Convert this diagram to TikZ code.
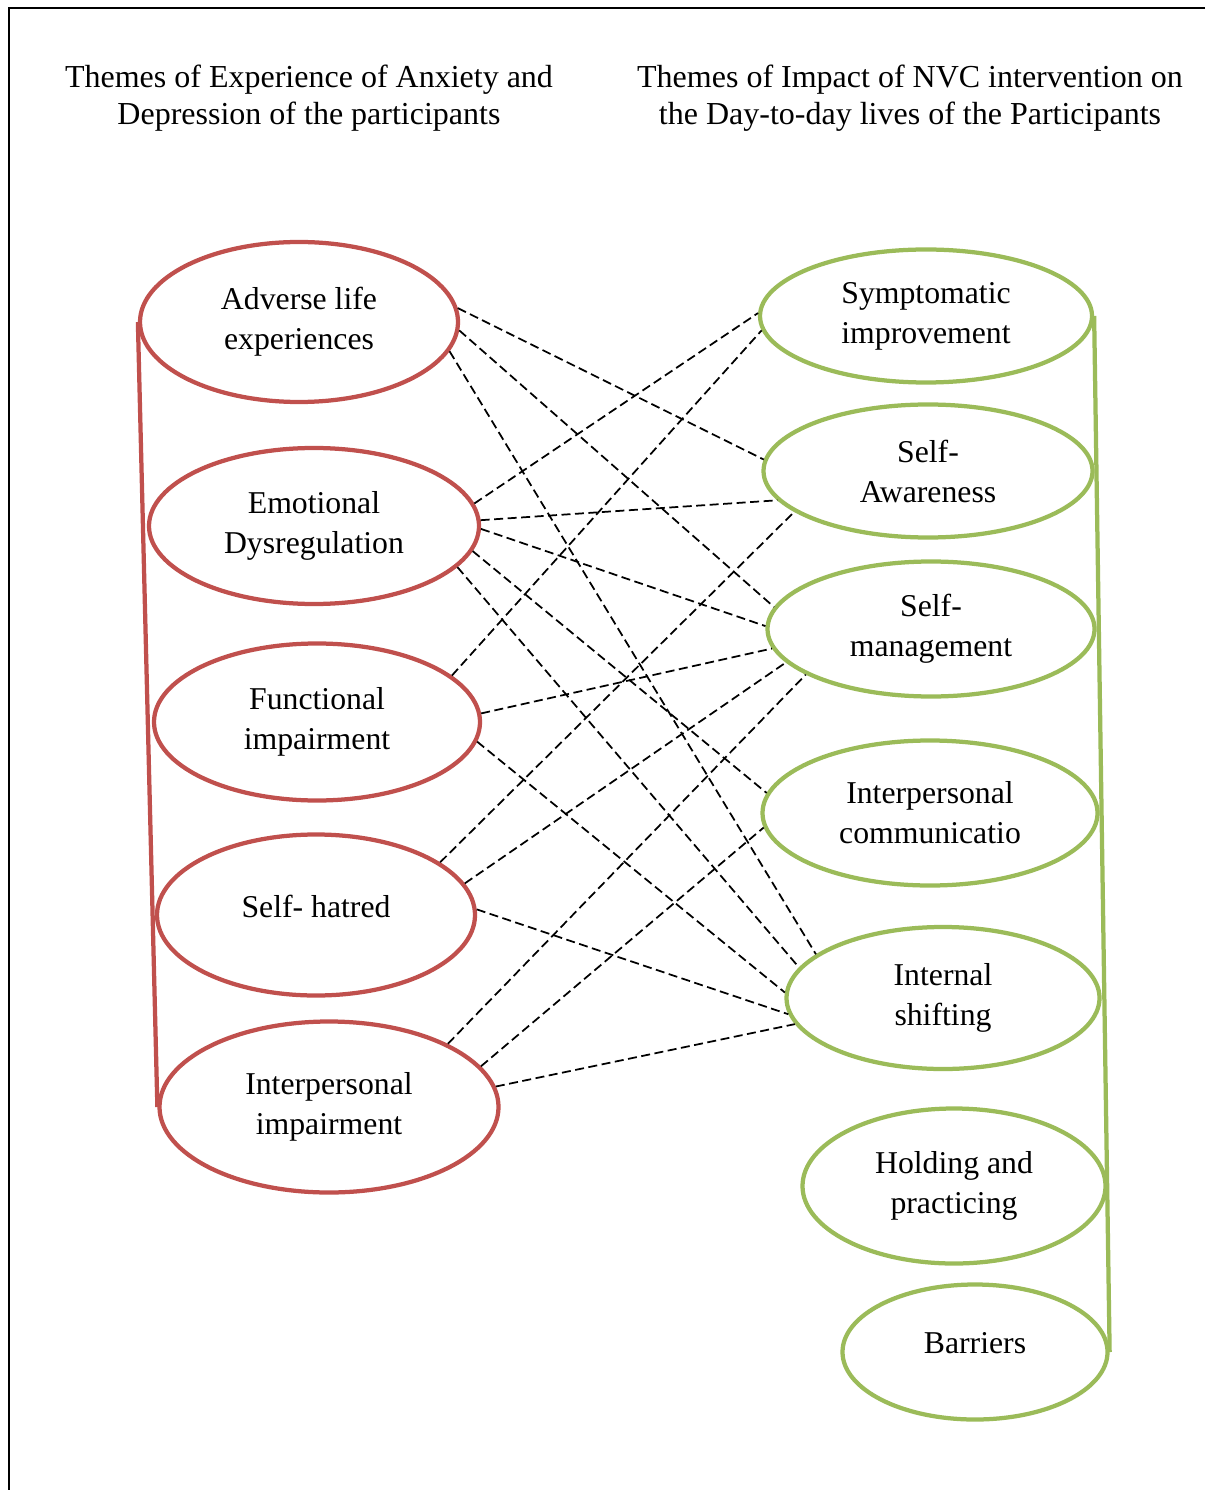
\documentclass[tikz,border=0pt]{standalone}
\usepackage{fontspec}
\setmainfont{Liberation Serif}
\usetikzlibrary{shapes.geometric}
\definecolor{redline}{HTML}{C0504D}
\definecolor{greenline}{HTML}{9BBB59}
\tikzset{
  theme/.style={ellipse, line width=1.7pt, inner sep=0pt, align=center,
    font=\fontsize{12.7}{16}\selectfont},
  redell/.style={theme, draw=redline},
  greenell/.style={theme, draw=greenline},
  ellsize/.style 2 args={minimum width=#1pt, minimum height=#2pt},
  liftby/.style={text depth=#1},
  link/.style={line width=0.7pt, dash pattern=on 3.6pt off 1.8pt},
  heading/.style={align=center, font=\fontsize{12.8}{14.8}\selectfont}
}

\begin{document}
\begin{tikzpicture}[x=0.4pt, y=-0.4pt]
    \useasboundingbox (0, 0) rectangle (1205, 1490);
    \draw[line width=0.8pt](1205, 8)--(9, 8)--(9, 1490);
    \node[heading] (lefthead) at (309, 98){Themes of Experience of Anxiety and\\Depression of the participants};
    \node[heading] (righthead) at (910, 98){Themes of Impact of NVC intervention on\\the Day-to-day lives of the Participants};
    % experience themes
    \node[redell, ellsize={127.2}{64}] (adverse) at (299, 322){Adverse life\\experiences};
    \node[redell, ellsize={132}{62.4}] (emotional) at (314, 526){Emotional\\Dysregulation};
    \node[redell, ellsize={130.4}{62.8}] (functional) at (317, 722){Functional\\impairment};
    \node[redell, ellsize={127.2}{64.4}, liftby=7pt] (hatred) at (316, 915){Self- hatred};
    \node[redell, ellsize={135.6}{68.4}] (interimp) at (329, 1107){Interpersonal\\impairment};
    \draw[redline, line width=1.7pt](adverse.west)--(interimp.west);
    % impact themes
    \node[greenell, ellsize={132.8}{53.2}] (symptom) at (926, 316){Symptomatic\\improvement};
    \node[greenell, ellsize={131.6}{53.2}] (awareness) at (928, 471){Self-\\Awareness};
    \node[greenell, ellsize={130.8}{54}] (manage) at (931, 629){Self-\\management};
    \node[greenell, ellsize={134}{58}] (intercomm) at (930, 813){Interpersonal\\communicatio};
    \node[greenell, ellsize={125.2}{56.8}] (shifting) at (943, 998){Internal\\shifting};
    \node[greenell, ellsize={121.2}{62}] (holding) at (954, 1186){Holding and\\practicing};
    \node[greenell, ellsize={106}{54}, liftby=7pt] (barriers) at (975, 1352){Barriers};
    \draw[greenline, line width=1.7pt](symptom.east)--(barriers.east);
    % links
    \draw[link](adverse.5)--(awareness.176);
    \draw[link](adverse.-3)--(manage.172);
    \draw[link](adverse.-11)--(shifting.161);
    \draw[link](emotional.8)--(symptom.179);
    \draw[link](emotional.2)--(awareness.191);
    \draw[link](emotional.-1)--(manage.179);
    \draw[link](emotional.-9)--(intercomm.173);
    \draw[link](emotional.-16)--(shifting.168);
    \draw[link](functional.19)--(symptom.185);
    \draw[link](functional.3)--(manage.187);
    \draw[link](functional.-7)--(shifting.178);
    \draw[link](hatred.23)--(awareness.197);
    \draw[link](hatred.12)--(manage.193);
    \draw[link](hatred.2)--(shifting.186);
    \draw[link](interimp.28)--(manage.200);
    \draw[link](interimp.15)--(intercomm.185);
    \draw[link](interimp.7)--(shifting.190);
\end{tikzpicture}
\end{document}
